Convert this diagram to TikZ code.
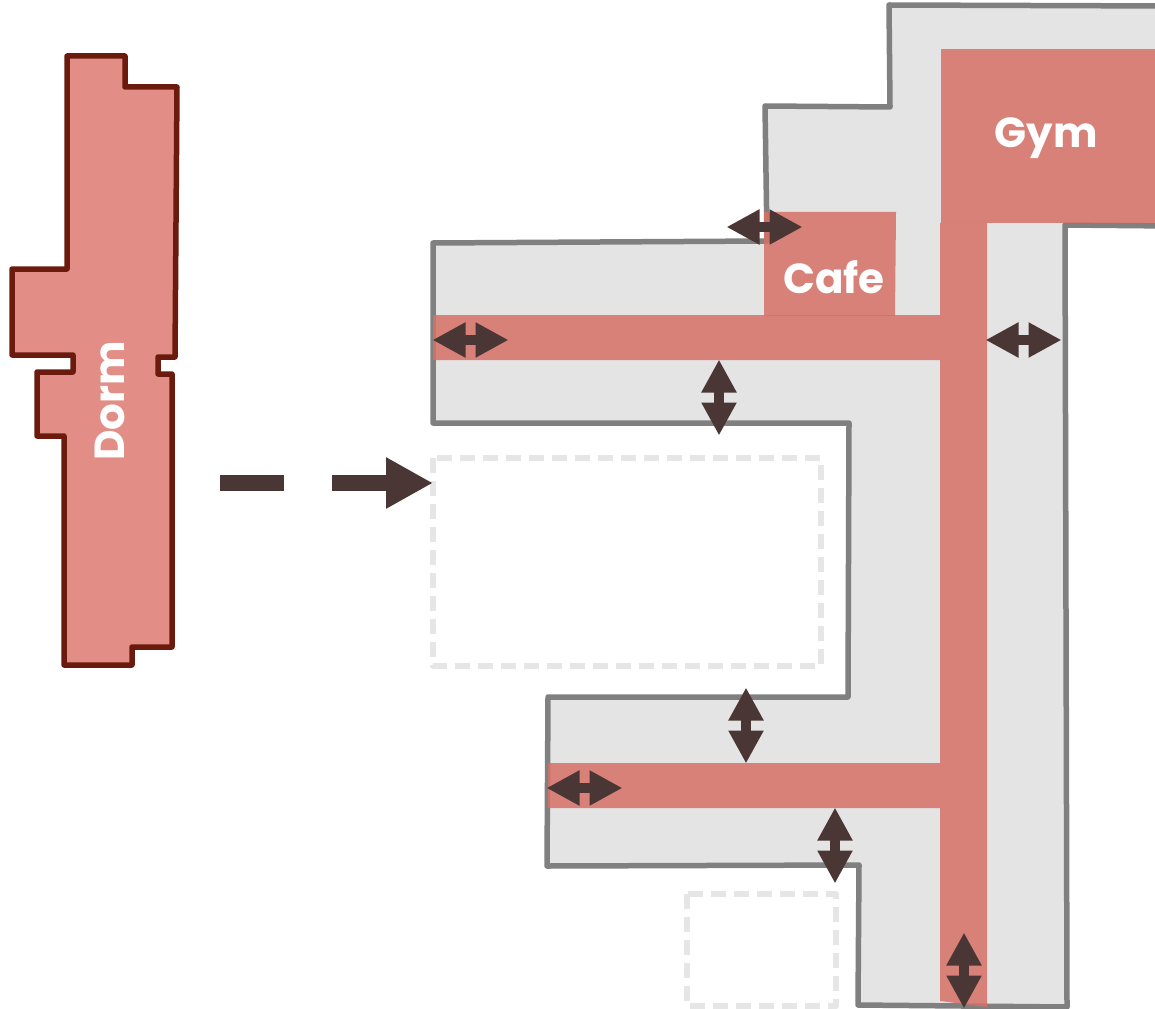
\documentclass[tikz,border=0pt]{standalone}
\usepackage{fontspec}
\setmainfont{Poppins}
\usetikzlibrary{arrows.meta}
\definecolor{wallgrey}{HTML}{808080}
\definecolor{floorgrey}{HTML}{E4E4E4}
\definecolor{roomred}{HTML}{D67067}
\definecolor{dormred}{HTML}{E28D85}
\definecolor{dormline}{HTML}{6A1B0E}
\definecolor{arrowbrown}{HTML}{4A3735}
\definecolor{ghost}{HTML}{E6E6E6}
\tikzset{
  building/.style={draw=wallgrey,fill=floorgrey,line width=5.5pt,line join=round},
  room/.style={fill=roomred,fill opacity=.85},
  dorm/.style={draw=dormline,fill=dormred,line width=5.5pt,line join=round},
  ghostbox/.style={draw=ghost,line width=5.5pt,line join=round,dash pattern=on 15pt off 8pt},
  dbl/.style={draw=arrowbrown,line width=10pt,{Triangle[length=33pt,width=33pt,fill=arrowbrown]}-{Triangle[length=33pt,width=33pt,fill=arrowbrown]}},
  move/.style={draw=arrowbrown,line width=16pt},
  movehead/.style={move,-{Triangle[length=47pt,width=48pt,fill=arrowbrown]}},
  label/.style={text=white,font=\fontsize{42}{42}\selectfont\bfseries,inner sep=0pt}
}
\begin{document}
\begin{tikzpicture}[x=1pt,y=-1pt]
\useasboundingbox (0,0) rectangle (1155,1008);
\clip (0,0) rectangle (1155,1008);
% building
\draw[building] (889,5) -- (1170,6) -- (1170,226) -- (1065,225) -- (1067,1007) -- (858,1005) -- (859,865) -- (547,866) -- (548,697) -- (848,697) -- (849,423) -- (433,423) -- (433,243) -- (767,241) -- (765,106) -- (890,107) -- cycle;
% rooms and corridors
\fill[room] (941,49) rectangle (1160,223);
\fill[room] (764,212) -- (896,212) -- (895,316) -- (764,316) -- cycle;
\fill[room] (940,223) -- (987,223) -- (987,1007) -- (940,1001) -- (940,808) -- (548,808) -- (548,763) -- (940,763) -- (940,360) -- (433,360) -- (433,315) -- (940,315) -- cycle;
% planned sites
\draw[ghostbox] (433,458) rectangle (821,666);
\draw[ghostbox] (687,894) rectangle (836,1006);
% dorm
\draw[dorm] (67,56) -- (125,56) -- (125,87) -- (177,87) -- (175,357) -- (158,357) -- (158,374) -- (172,374) -- (172,647) -- (132,647) -- (132,665) -- (64,665) -- (64,436) -- (37,436) -- (37,372) -- (73,372) -- (73,355) -- (12,355) -- (12,269) -- (67,269) -- cycle;
% labels
\node[label] (gym) at (1046,138) {Gym};
\node[label] (cafe) at (834,277) {Cafe};
\node[label,rotate=90] (dormlabel) at (110,401) {Dorm};
% named ends
\coordinate (m1) at (220,483); \coordinate (m2) at (284,483);
\coordinate (m3) at (332,483); \coordinate (m4) at (433,483);
\coordinate (a1) at (726.5,227); \coordinate (b1) at (802.5,227);
\coordinate (a2) at (432.5,340); \coordinate (b2) at (508.5,340);
\coordinate (a3) at (719,359.5); \coordinate (b3) at (719,435.5);
\coordinate (a4) at (985.5,340); \coordinate (b4) at (1061.5,340);
\coordinate (a5) at (746,687.5); \coordinate (b5) at (746,763.5);
\coordinate (a6) at (546.5,788); \coordinate (b6) at (622.5,788);
\coordinate (a7) at (835,807.5); \coordinate (b7) at (835,883.5);
\coordinate (a8) at (964,932.5); \coordinate (b8) at (964,1008.5);
% arrows
\draw[move] (m1) -- (m2);
\draw[movehead] (m3) -- (m4);
\foreach \i in {1,...,8} \draw[dbl] (a\i) -- (b\i);
\end{tikzpicture}
\end{document}
